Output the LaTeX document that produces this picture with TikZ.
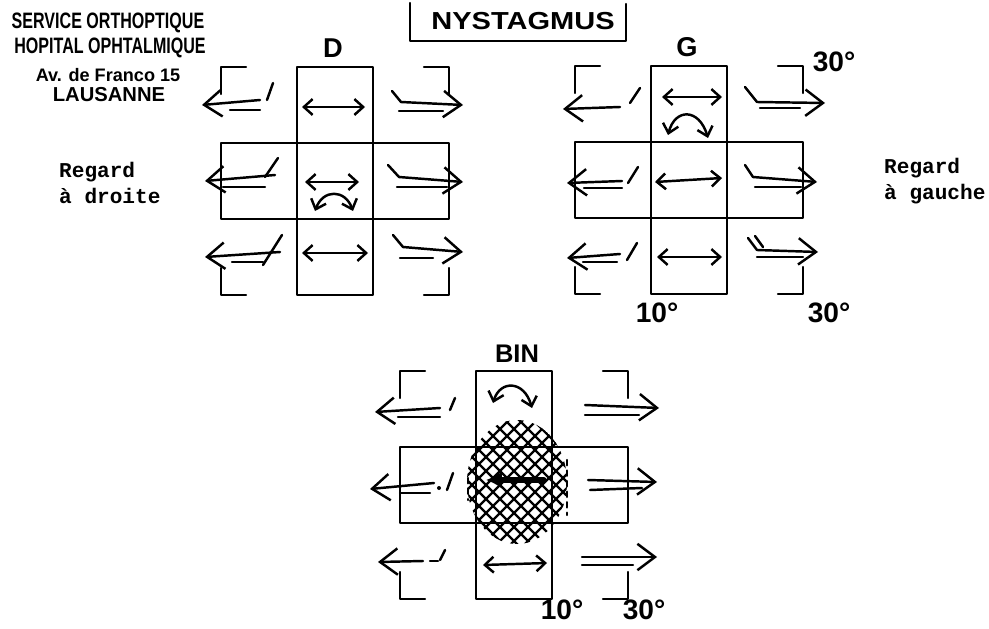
\documentclass[tikz,border=0pt]{standalone}
\usepackage{fontspec}
\setmainfont{Liberation Sans}
\newfontfamily\stampfont[FakeStretch=0.72]{Liberation Sans}
\newfontfamily\addrfont{Liberation Sans}
\newfontfamily\typefont{Liberation Mono}
\newfontfamily\titlefont[FakeStretch=1.18]{Liberation Sans}
\usetikzlibrary{arrows.meta}
\begin{document}
\begin{tikzpicture}[x=0.02cm,y=-0.02cm,line width=1.4pt,line cap=round,line join=round,
  big/.style={-{Straight Barb[length=10pt,width=15pt]}},
  both/.style={{Straight Barb[length=5pt,width=9pt]}-{Straight Barb[length=5pt,width=9pt]}},
  bold/.style={line width=3pt,-{Latex[length=9pt,width=10pt]}},
  hatch/.style={line width=1.3pt},
  lab/.style={inner sep=0pt,font=\bfseries\fontsize{15.5}{16}\selectfont},
  deg/.style={inner sep=0pt,font=\bfseries\fontsize{16}{16}\selectfont},
  stamp/.style={inner sep=0pt,font=\stampfont\bfseries\fontsize{12.7}{13}\selectfont},
  addr/.style={inner sep=0pt,font=\addrfont\bfseries\fontsize{10.3}{11}\selectfont},
  type/.style={inner sep=0pt,align=left,font=\typefont\bfseries\fontsize{12}{14.7}\selectfont}]
 \useasboundingbox (0,0) rectangle (989,628);
 \node[stamp] (serv) at (108,23) {SERVICE ORTHOPTIQUE};
 \node[stamp] (hop) at (110,48) {HOPITAL OPHTALMIQUE};
 \node[addr] (av) at (108,75) {Av. de Franco 15};
 \node[addr,font=\addrfont\bfseries\fontsize{11.5}{12}\selectfont] (laus) at (109,95) {LAUSANNE};
 \node[type,anchor=west] (rd) at (58,183) {Regard\\à droite};
 \node[type,anchor=west] (rg) at (883,181) {Regard\\à gauche};
 \node[inner sep=0pt,font=\titlefont\bfseries\fontsize{14}{14}\selectfont] (nyst) at (523,21) {NYSTAGMUS};
 \draw (410,3) |- (626,41) -- (626,4);
 \node[lab] (d) at (333,48) {D};
 \node[lab] (g) at (687,47) {G};
 \node[lab,font=\bfseries\fontsize{14.5}{15}\selectfont] (bin) at (517,354) {BIN};
 \node[deg] (g10) at (657,313) {10°};
 \node[deg] (g30) at (829,313) {30°};
 \node[deg] (g30t) at (834,62) {30°};
 \node[deg] (b10) at (562,610) {10°};
 \node[deg] (b30) at (644,610) {30°};
 \begin{scope}[shift={(335,181)}]
  \draw (-38,-114) rectangle (38,114);
  \draw (-114,-38) rectangle (114,38);
  \draw (-114,-87) |- (-89,-114); \draw (89,-114) -| (114,-87);
  \draw (-114,87) |- (-89,114); \draw (89,114) -| (114,87);
  \draw[big] (-75,-81) -- (-133,-76);
  \draw (-105,-71) -- (-75,-71); \draw (-68,-81) -- (-62,-98);
  \draw[both] (-33,-74) -- (30,-74);
  \draw[big] (57,-90) -- (66,-79) -- (128,-76);
  \draw (64,-70) -- (108,-70);
  \draw[big] (-60,-6) -- (-130,0);
  \draw (-112,6) -- (-70,6); \draw (-70,-4) -- (-57,-23);
  \draw[both] (-30,1) -- (24,1);
  \draw[both] (-20,30) .. controls (-12,8) and (10,8) .. (18,30);
  \draw[big] (53,-16) -- (64,-4) -- (128,1);
  \draw (62,6) -- (112,6);
  \draw[big] (-55,71) -- (-130,76);
  \draw (-103,81) -- (-72,81); \draw (-72,84) -- (-53,54);
  \draw[both] (-33,72) -- (33,72);
  \draw[big] (58,54) -- (68,66) -- (128,71);
  \draw (65,77) -- (98,77);
 \end{scope}
 \begin{scope}[shift={(689,180)}]
  \draw (-38,-114) rectangle (38,114);
  \draw (-114,-38) rectangle (114,38);
  \draw (-114,-87) |- (-89,-114); \draw (89,-114) -| (114,-87);
  \draw (-114,87) |- (-89,114); \draw (89,114) -| (114,87);
  \draw[big] (-69,-73) -- (-126,-71);
  \draw (-59,-77) -- (-49,-92);
  \draw[both] (-27,-83) -- (33,-83);
  \draw[both] (-21,-45) .. controls (-14,-72) and (10,-72) .. (19,-42);
  \draw[big] (56,-93) -- (68,-78) -- (136,-77);
  \draw (71,-72) -- (111,-72);
  \draw[big] (-67,1) -- (-122,3);
  \draw (-105,8) -- (-67,8); \draw (-61,3) -- (-51,-13);
  \draw[both] (-34,2) -- (33,-2);
  \draw[big] (56,-15) -- (64,-3) -- (128,2);
  \draw (66,7) -- (112,7);
  \draw[big] (-69,74) -- (-122,78);
  \draw (-106,82) -- (-72,82); \draw (-62,80) -- (-52,63);
  \draw[both] (-32,77) -- (33,77);
  \draw[big] (59,58) -- (68,70) -- (129,72);
  \draw (66,56) -- (74,67);
  \draw (68,77) -- (114,77);
 \end{scope}
 \begin{scope}[shift={(514,485)}]
  \begin{scope}
   \clip (3,-3) ellipse [x radius=50,y radius=62];
   \foreach \k in {-140,-126,...,140} {
    \draw[hatch] (\k-70,-70) -- (\k+70,70);
    \draw[hatch] (\k-70,70) -- (\k+70,-70);
   }
  \end{scope}
  \draw (-38,-114) rectangle (38,114);
  \draw (-114,-38) rectangle (114,38);
  \draw (-114,-87) |- (-89,-114); \draw (89,-114) -| (114,-87);
  \draw (-114,87) |- (-89,114); \draw (89,114) -| (114,87);
  \draw[big] (-74,-77) -- (-139,-73);
  \draw (-116,-68) -- (-74,-68); \draw (-64,-75) -- (-59,-87);
  \draw[both] (-21,-82) .. controls (-14,-105) and (10,-105) .. (18,-77);
  \draw[big] (71,-80) -- (145,-77);
  \draw (71,-70) -- (125,-70);
  \draw[big] (-80,-2) -- (-144,4);
  \draw (-114,8) -- (-84,8); \fill (-75,3) circle (2); \draw (-67,5) -- (-61,-12);
  \draw[bold] (30,-5) -- (-28,-5);
  \draw[big] (74,-5) -- (143,-3);
  \draw (76,5) -- (128,3);
  \draw[big] (-91,76) -- (-136,77);
  \draw (-84,76) -- (-76,76); \draw (-74,75) -- (-69,65);
  \draw[both] (-31,80) -- (33,78);
  \draw[big] (68,72) -- (143,72);
  \draw (68,80) -- (119,80);
  \draw[dashed] (53,-25) -- (53,30);
  \draw[dashed] (-46,-7) -- (-46,15);
 \end{scope}
\end{tikzpicture}
\end{document}
